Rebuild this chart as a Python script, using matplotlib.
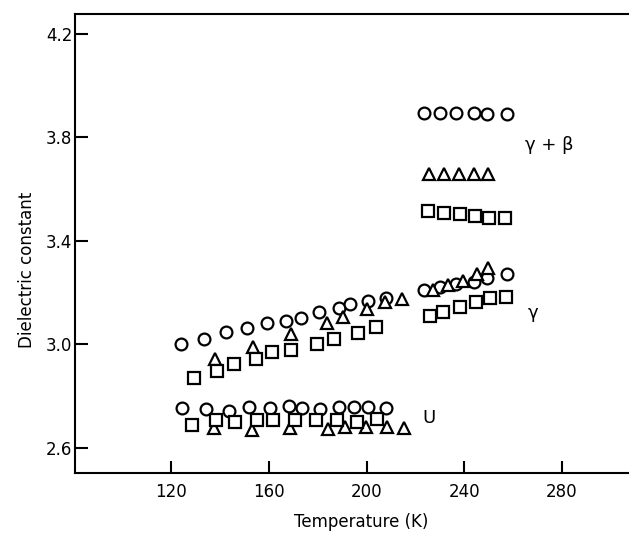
import matplotlib
matplotlib.use("Agg")
import matplotlib.pyplot as plt

# gamma + beta branch (upper)
gb_circ_T = [223.6, 230.1, 236.6, 244.0, 249.5, 257.6]
gb_circ_e = [3.893, 3.893, 3.895, 3.893, 3.892, 3.892]
gb_tri_T = [225.7, 231.7, 238.0, 244.1, 249.9]
gb_tri_e = [3.659, 3.659, 3.659, 3.659, 3.659]
gb_sq_T = [225.3, 231.7, 238.3, 244.4, 250.2, 256.5]
gb_sq_e = [3.517, 3.507, 3.503, 3.497, 3.490, 3.488]

# gamma branch
g_circ_T = [124.1, 133.4, 142.3, 150.8, 159.2, 166.9, 173.0, 180.6, 188.6, 193.3, 200.5, 208.1,
            223.6, 230.1, 236.6, 244.0, 249.5, 257.6]
g_circ_e = [3.001, 3.021, 3.049, 3.064, 3.084, 3.092, 3.101, 3.126, 3.141, 3.155, 3.169, 3.179,
            3.211, 3.223, 3.234, 3.243, 3.258, 3.271]
g_tri_T = [137.8, 153.5, 168.9, 183.8, 190.5, 200.1, 207.5, 214.6,
           227.1, 233.5, 239.6, 245.1, 249.9]
g_tri_e = [2.943, 2.989, 3.041, 3.084, 3.107, 3.136, 3.165, 3.176,
           3.211, 3.230, 3.245, 3.272, 3.294]
g_sq_T = [129.1, 138.7, 145.7, 154.5, 161.4, 169.1, 179.7, 186.6, 196.6, 203.8,
          226.0, 231.2, 238.3, 244.8, 250.6, 257.0]
g_sq_e = [2.872, 2.898, 2.923, 2.943, 2.972, 2.979, 3.001, 3.020, 3.043, 3.069,
          3.111, 3.127, 3.146, 3.165, 3.181, 3.185]

# U branch (lower)
u_circ_T = [124.3, 134.1, 143.6, 151.8, 160.3, 168.2, 173.6, 180.8, 188.8, 194.8, 200.4, 207.9]
u_circ_e = [2.753, 2.749, 2.744, 2.760, 2.753, 2.762, 2.756, 2.749, 2.757, 2.757, 2.757, 2.753]
u_sq_T = [128.5, 138.2, 146.0, 155.1, 161.7, 170.6, 179.2, 187.7, 196.1, 204.3]
u_sq_e = [2.689, 2.706, 2.702, 2.706, 2.706, 2.708, 2.706, 2.706, 2.702, 2.711]
u_tri_T = [137.5, 153.2, 168.8, 184.2, 191.1, 199.7, 208.2, 215.4]
u_tri_e = [2.678, 2.670, 2.678, 2.672, 2.679, 2.682, 2.679, 2.676]

xticks = [120, 160, 200, 240, 280]
yticks = [2.6, 3.0, 3.4, 3.8, 4.2]

fig = plt.figure(figsize=(6.29, 5.36), dpi=100)
ax = fig.add_axes([0.1192, 0.1175, 0.8808, 0.8565])

mk = dict(linestyle='none', markerfacecolor='white', markeredgecolor='black', markeredgewidth=1.6)
for T, e in [(gb_circ_T, gb_circ_e), (g_circ_T, g_circ_e), (u_circ_T, u_circ_e)]:
    ax.plot(T, e, marker='o', markersize=8.5, **mk)
for T, e in [(gb_tri_T, gb_tri_e), (g_tri_T, g_tri_e), (u_tri_T, u_tri_e)]:
    ax.plot(T, e, marker='^', markersize=9, **mk)
for T, e in [(gb_sq_T, gb_sq_e), (g_sq_T, g_sq_e), (u_sq_T, u_sq_e)]:
    ax.plot(T, e, marker='s', markersize=8, **mk)

ax.text(265, 3.77, 'γ + β', fontsize=13, va='center', ha='left')
ax.text(266, 3.12, 'γ', fontsize=13, va='center', ha='left')
ax.text(223, 2.715, 'U', fontsize=13, va='center', ha='left')

ax.set_xlim(80.5, 307.5)
ax.set_ylim(2.503, 4.277)
ax.set_xticks(xticks)
ax.set_yticks(yticks)
ax.set_yticklabels([f'{v:.1f}' for v in yticks])
ax.tick_params(direction='in', length=9, width=1.5, labelsize=12)
ax.tick_params(axis='x', pad=7)
ax.tick_params(axis='y', pad=2)

ax.spines['right'].set_visible(False)
for s in ['left', 'top', 'bottom']:
    ax.spines[s].set_linewidth(1.5)

ax.set_xlabel('Temperature (K)', fontsize=12)
ax.set_ylabel('Dielectric constant', fontsize=12)
ax.xaxis.set_label_coords(0.516, -0.088)
ax.yaxis.set_label_coords(-0.07, 0.442)

fig.savefig('out.png', dpi=100)
